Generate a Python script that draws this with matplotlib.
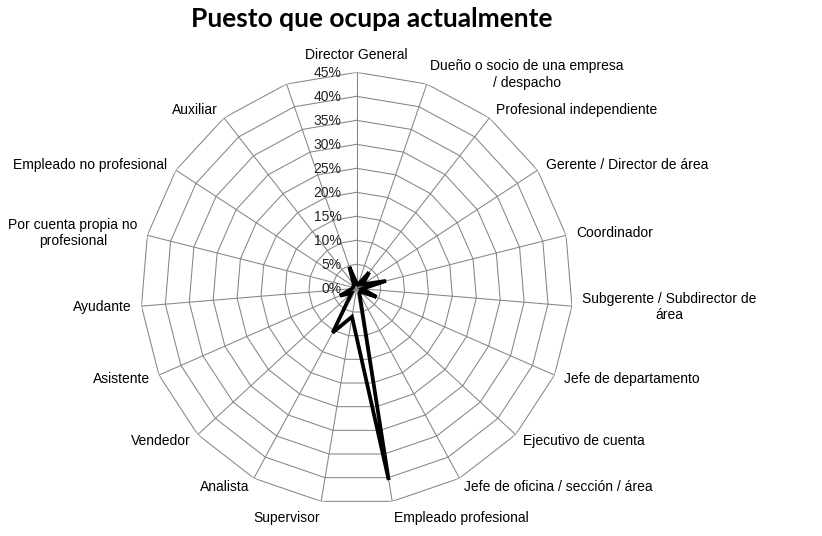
import numpy as np
import matplotlib
matplotlib.use("Agg")
import matplotlib.pyplot as plt

categories = [
    "Director General",
    "Dueño o socio de una empresa\n/ despacho",
    "Profesional independiente",
    "Gerente / Director de área",
    "Coordinador",
    "Subgerente / Subdirector de\nárea",
    "Jefe de departamento",
    "Ejecutivo de cuenta",
    "Jefe de oficina / sección / área",
    "Empleado profesional",
    "Supervisor",
    "Analista",
    "Vendedor",
    "Asistente",
    "Ayudante",
    "Por cuenta propia no\nprofesional",
    "Empleado no profesional",
    "Auxiliar",
    "",
]
values = [1.0, 0.8, 4.2, 1.5, 6.3, 1.2, 4.5, 1.0, 1.2, 40.5,
          6.0, 10.5, 1.5, 3.8, 1.0, 0.8, 0.8, 1.0, 4.7]
rings = [0, 5, 10, 15, 20, 25, 30, 35, 40, 45]
ring_labels = [f"{r}%" for r in rings]

plt.rcParams["font.family"] = ["Liberation Sans", "DejaVu Sans"]

fig = plt.figure(figsize=(8.22, 5.36), dpi=100)
ax = fig.add_axes([0.1712, 0.0591, 0.5255, 0.806], projection="polar")
ax.set_theta_zero_location("N")
ax.set_theta_direction(-1)
ax.set_ylim(0, 45)
ax.grid(False)
ax.set_xticks([])
ax.set_yticks([])
ax.spines["polar"].set_visible(False)

n = len(categories)
theta = np.arange(n) * 2 * np.pi / n
theta_c = np.append(theta, theta[0])

grid_col = "#868686"
# polygon rings
for r in rings[1:]:
    ax.plot(theta_c, [r] * (n + 1), color=grid_col, lw=0.75, zorder=1)
# spokes
for t in theta:
    ax.plot([t, t], [0, rings[-1]], color=grid_col, lw=0.75, zorder=1)

# ring labels
for r, lab in zip(rings, ring_labels):
    ax.annotate(lab, xy=(0, r), xytext=(-15, -1), textcoords="offset pixels",
                ha="right", va="center", fontsize=10, color="#222222")

# category labels
for t, lab in zip(theta, categories):
    s, c = np.sin(t), np.cos(t)
    ha = "left" if s > 0.05 else ("right" if s < -0.05 else "center")
    va = "bottom" if c > 0.95 else ("top" if c < -0.95 else "center")
    ax.annotate(lab, xy=(t, rings[-1]), xytext=(10 * s, 10 * c),
                textcoords="offset pixels", ha=ha, va=va, fontsize=10,
                multialignment="center", annotation_clip=False)

# data
vals_c = np.append(values, values[0])
ax.plot(theta_c, vals_c, color="black", lw=2.7, zorder=3,
        solid_joinstyle="miter")

fig.text(0.452, 0.965, "Puesto que ocupa actualmente", ha="center",
         va="center", fontsize=19, fontweight="bold", family="Lato")

fig.savefig("out.png", dpi=100)
